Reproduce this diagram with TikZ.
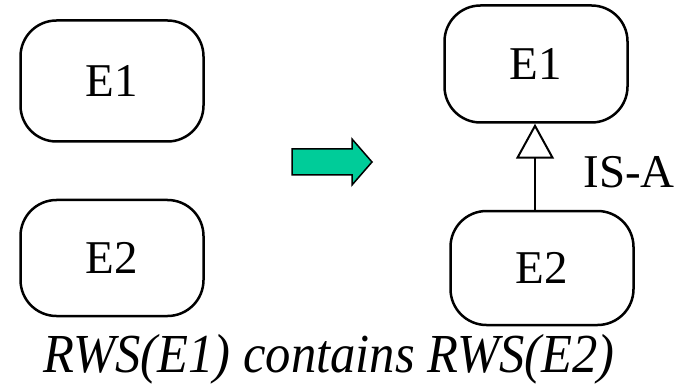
\documentclass[tikz,border=0pt]{standalone}
\usepackage{fontspec}
\setmainfont{Liberation Serif}
\usetikzlibrary{arrows.meta}

\definecolor{arrowgreen}{RGB}{0,204,153}

\tikzset{
  entity/.style={draw, line width=2.5pt, rounded corners=36pt,
    minimum width=183pt, minimum height=117pt, inner sep=0pt,
    font=\fontsize{47}{55}\selectfont},
  isa/.style={line width=2pt,
    -{Triangle[open, length=35pt, width=38pt, line width=2pt]}}
}

\begin{document}
\begin{tikzpicture}[x=1pt, y=-1pt]
\useasboundingbox (0,0) rectangle (684,387);
% before
\node [entity, minimum height=121pt] (e1l) at (112,81) {E1};
\node [entity, minimum height=116pt] (e2l) at (112,258) {E2};
% transformation arrow
\filldraw [fill=arrowgreen, line width=1.5pt, line join=miter]
  (292,149) -- (352,149) -- (352,139) -- (372,162)
  -- (352,185) -- (352,175) -- (292,175) -- cycle;
% after
\node [entity] (e1r) at (536,64) {E1};
\node [entity, minimum height=114pt] (e2r) at (542,268) {E2};
\draw [isa] (e2r.north -| 535,0) -- (e1r.south -| 535,0);
\node [anchor=west, font=\fontsize{47}{55}\selectfont] (isalabel) at (580,172) {IS-A};
\node [anchor=base, font=\fontsize{55}{64}\selectfont\itshape] (caption) at (329,372)
  {\scalebox{0.92}[1]{RWS(E1) contains RWS(E2)}};
\end{tikzpicture}
\end{document}
